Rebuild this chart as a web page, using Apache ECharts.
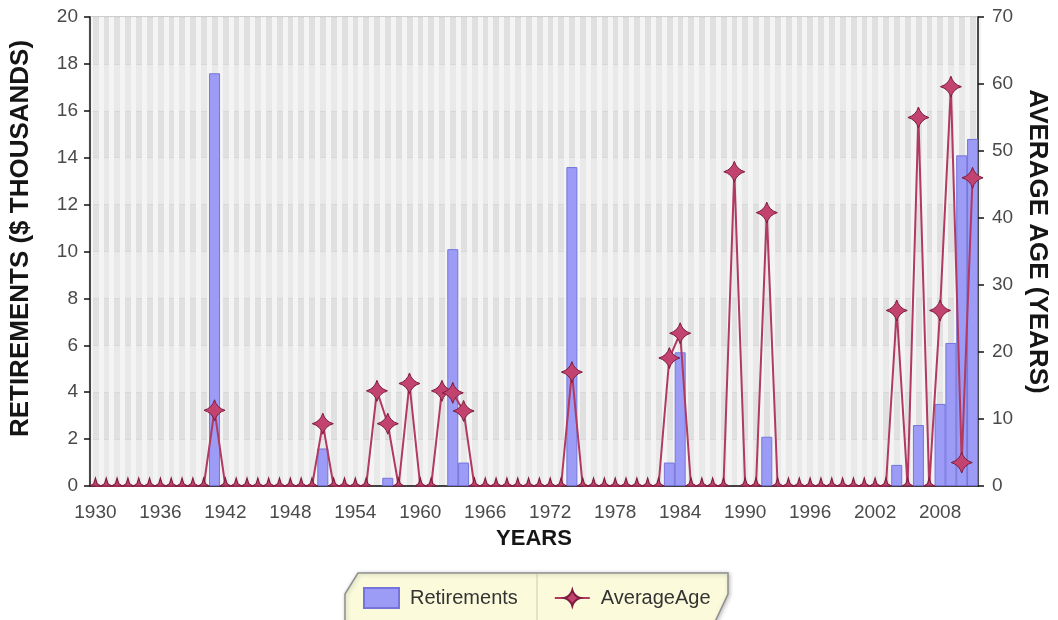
<!DOCTYPE html>
<html>
<head>
<meta charset="utf-8">
<script src="https://cdn.jsdelivr.net/npm/echarts@6/dist/echarts.min.js"></script>
<style>
html,body{margin:0;padding:0;background:#fff;}
#chart{width:1058px;height:620px;}
</style>
</head>
<body>
<div id="chart"></div>
<script>
const years = ['1930','1931','1932','1933','1934','1935','1936','1937','1938','1939',
'1940','1941','1942','1943','1944','1945','1946','1947','1948','1949',
'1950','1951','1952','1953','1954','1955','1956','1957','1958','1959',
'1960','1961','1962','1963','1964','1965','1966','1967','1968','1969',
'1970','1971','1972','1973','1974','1975','1976','1977','1978','1979',
'1980','1981','1982','1983','1984','1985','1986','1987','1988','1989',
'1990','1991','1992','1993','1994','1995','1996','1997','1998','1999',
'2000','2001','2002','2003','2004','2005','2006','2007','2008','2009',
'2010','2011'];

const retirements = [
0,0,0,0,0,0,0,0,0,0,
0,17.6,0,0,0,0,0,0,0,0,
0,1.6,0,0,0,0,0,0.35,0,0,
0,0,0,10.1,1.0,0,0,0,0,0,
0,0,0,0,13.6,0,0,0,0,0,
0,0,0,1.0,5.7,0,0,0,0,0,
0,0,2.1,0,0,0,0,0,0,0,
0,0,0,0,0.9,0,2.6,0,3.5,6.1,
14.1,14.8];

const averageAge = [
0,0,0,0,0,0,0,0,0,0,
0,11.3,0,0,0,0,0,0,0,0,
0,9.3,0,0,0,0,14.2,9.3,0,15.3,
0,0,14.2,13.9,11.2,0,0,0,0,0,
0,0,0,0,17.0,0,0,0,0,0,
0,0,0,19.1,22.8,0,0,0,0,46.9,
0,0,40.8,0,0,0,0,0,0,0,
0,0,0,0,26.2,0,55.0,0,26.2,59.6,
3.5,46.0];

const leftTitle = 'RETIREMENTS ($ THOUSANDS)';
const rightTitle = 'AVERAGE AGE (YEARS)';
const xTitle = 'YEARS';

const FONT = "'Liberation Sans', Arial, sans-serif";
const STAR = 'path://M0,-10Q2.2,-2.2 10,0Q2.2,2.2 0,10Q-2.2,2.2 -10,0Q-2.2,-2.2 0,-10Z';
const HALF = 'path://M-10,0L-3,-3L0,-10L3,-3L10,0Z';

const chart = echarts.init(document.getElementById('chart'), null, {renderer:'canvas'});

const tickLabel = {fontFamily: FONT, fontSize: 19, color: '#4a4a4a'};
const titleStyle = {fontFamily: FONT, fontWeight: 'bold', color: '#151515'};

chart.setOption({
  animation: false,
  backgroundColor: '#ffffff',
  textStyle: {fontFamily: FONT},
  grid: {left: 88, right: 70, top: 17, bottom: 134, show: true,
         backgroundColor: '#e5e5e5', borderColor: '#9a9a9a', borderWidth: 1},
  legend: {
    left: 358, top: 582, itemWidth: 35, itemHeight: 20, itemGap: 36,
    textStyle: {fontFamily: FONT, fontSize: 20, color: '#333', padding: [0,0,0,6]},
    data: [{name: 'Retirements', icon: 'rect'}, {name: 'AverageAge'}],
    z: 10
  },
  graphic: [
    {type: 'polygon', z: 1, shape: {points: [[358,573],[728,573],[728,594],[714,624],[345,624],[345,594]]},
     style: {fill: '#fbfbdc', stroke: '#8f8f8f', lineWidth: 1.5, shadowBlur: 4, shadowColor: 'rgba(0,0,0,0.25)', shadowOffsetX: 1, shadowOffsetY: 1}},
    {type: 'line', z: 2, shape: {x1: 537, y1: 574, x2: 537, y2: 622}, style: {stroke: '#c9c9b0', lineWidth: 1}}
  ],
  xAxis: {
    type: 'category', data: years, boundaryGap: true,
    axisLine: {lineStyle: {color: '#111', width: 1.5}},
    axisTick: {alignWithLabel: true, interval: 5, length: 6, lineStyle: {color: '#111', width: 1.5}},
    axisLabel: Object.assign({interval: 5, margin: 17}, tickLabel),
    splitLine: {show: true, interval: 0, lineStyle: {color: '#f4f4f4', width: 5}},
    name: xTitle, nameLocation: 'middle', nameGap: 42,
    nameTextStyle: Object.assign({fontSize: 22}, titleStyle)
  },
  yAxis: [
    {
      type: 'value', min: 0, max: 20, interval: 2, position: 'left',
      axisLine: {show: true, lineStyle: {color: '#111', width: 1.5}},
      axisTick: {show: true, length: 6, lineStyle: {color: '#111', width: 1.5}},
      axisLabel: Object.assign({margin: 12}, tickLabel),
      splitLine: {show: true, lineStyle: {color: '#d8d8d8', width: 1}},
      splitArea: {show: true, areaStyle: {color: ['rgba(255,255,255,0.18)', 'rgba(0,0,0,0.02)']}},
      name: leftTitle, nameLocation: 'middle', nameGap: 56,
      nameTextStyle: Object.assign({fontSize: 26, padding: [0,0,0,26]}, titleStyle)
    },
    {
      type: 'value', min: 0, max: 70, interval: 10, position: 'right',
      axisLine: {show: true, lineStyle: {color: '#111', width: 1.5}},
      axisTick: {show: true, length: 6, lineStyle: {color: '#111', width: 1.5}},
      axisLabel: Object.assign({margin: 14}, tickLabel),
      splitLine: {show: false},
      name: rightTitle, nameLocation: 'middle', nameGap: 44, nameRotate: -90,
      nameTextStyle: Object.assign({fontSize: 26, padding: [0,20,0,0]}, titleStyle)
    }
  ],
  series: [
    {
      name: 'Retirements', type: 'bar', yAxisIndex: 0, barWidth: 11,
      itemStyle: {color: '#9c9cf6', borderColor: '#7474dc', borderWidth: 1},
      data: retirements.map(v => v === 0 ? '-' : v)
    },
    {
      name: 'AverageAge', type: 'line', yAxisIndex: 1, z: 5,
      symbol: STAR, symbolSize: 21, showAllSymbol: true,
      lineStyle: {color: '#b2395f', width: 2},
      itemStyle: {color: '#c2436f', borderColor: '#7d1c3e', borderWidth: 1},
      data: averageAge.map(v => v === 0
        ? {value: 0, symbol: HALF, symbolSize: [11, 8], symbolOffset: [0, -4]}
        : v)
    }
  ]
});
</script>
</body>
</html>
